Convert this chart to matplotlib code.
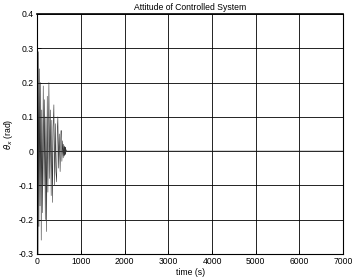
import numpy as np
import matplotlib.pyplot as plt

# extrema of the attitude response (time in s, angle in rad)
t_pts = [0, 5, 15, 25, 35, 45, 60, 75, 87, 100, 115, 133, 150, 165, 180,
         195, 210, 225, 240, 263, 280, 295, 315, 330, 345, 360, 377, 395,
         410, 425, 440, 455, 468, 485, 500, 520, 535, 543, 560, 575, 590,
         600, 610, 618, 624, 630, 636, 642, 648, 655, 662, 670, 700, 7000]
theta_pts = [0.0, 0.30, -0.30, 0.29, -0.22, 0.24, -0.16, 0.20, -0.26, 0.12,
             -0.18, 0.19, -0.10, 0.15, -0.20, 0.10, -0.235, 0.16, -0.12, 0.20,
             -0.08, 0.12, -0.13, 0.09, -0.15, 0.07, 0.135, -0.10, 0.08, -0.06,
             -0.09, 0.06, 0.10, -0.05, 0.05, -0.06, 0.04, 0.06, -0.03, 0.03,
             -0.02, 0.02, -0.015, 0.015, -0.012, 0.012, -0.01, 0.01, -0.006,
             0.004, -0.002, 0.0, 0.0, 0.0]

xticks = np.arange(0, 7001, 1000)
yticks = np.round(np.arange(-0.3, 0.41, 0.1), 1)

plt.rcParams['font.family'] = ['Liberation Sans', 'DejaVu Sans']
fig = plt.figure(figsize=(3.53, 2.79), dpi=100)
ax = fig.add_axes([0.106, 0.09, 0.866, 0.86])

ax.plot(t_pts, theta_pts, color='#333333', linewidth=0.4)

ax.set_xlim(0, 7000)
ax.set_ylim(-0.3, 0.4)
ax.set_xticks(xticks)
ax.set_yticks(yticks)
ax.set_yticklabels([f"{v:g}" for v in yticks])
ax.grid(True, color='black', linewidth=0.6, linestyle='-')
ax.tick_params(direction='in', length=3, labelsize=6.2, width=0.6, pad=2.5)
for s in ax.spines.values():
    s.set_linewidth(0.8)
ax.spines['top'].set_linewidth(1.2)

ax.set_title('Attitude of Controlled System', fontsize=6.2, pad=3)
ax.set_xlabel('time (s)', fontsize=6.2, labelpad=1)
ax.set_ylabel(r'$\theta_x$ (rad)', fontsize=6.2, labelpad=3)

fig.savefig('out.png', dpi=100)
